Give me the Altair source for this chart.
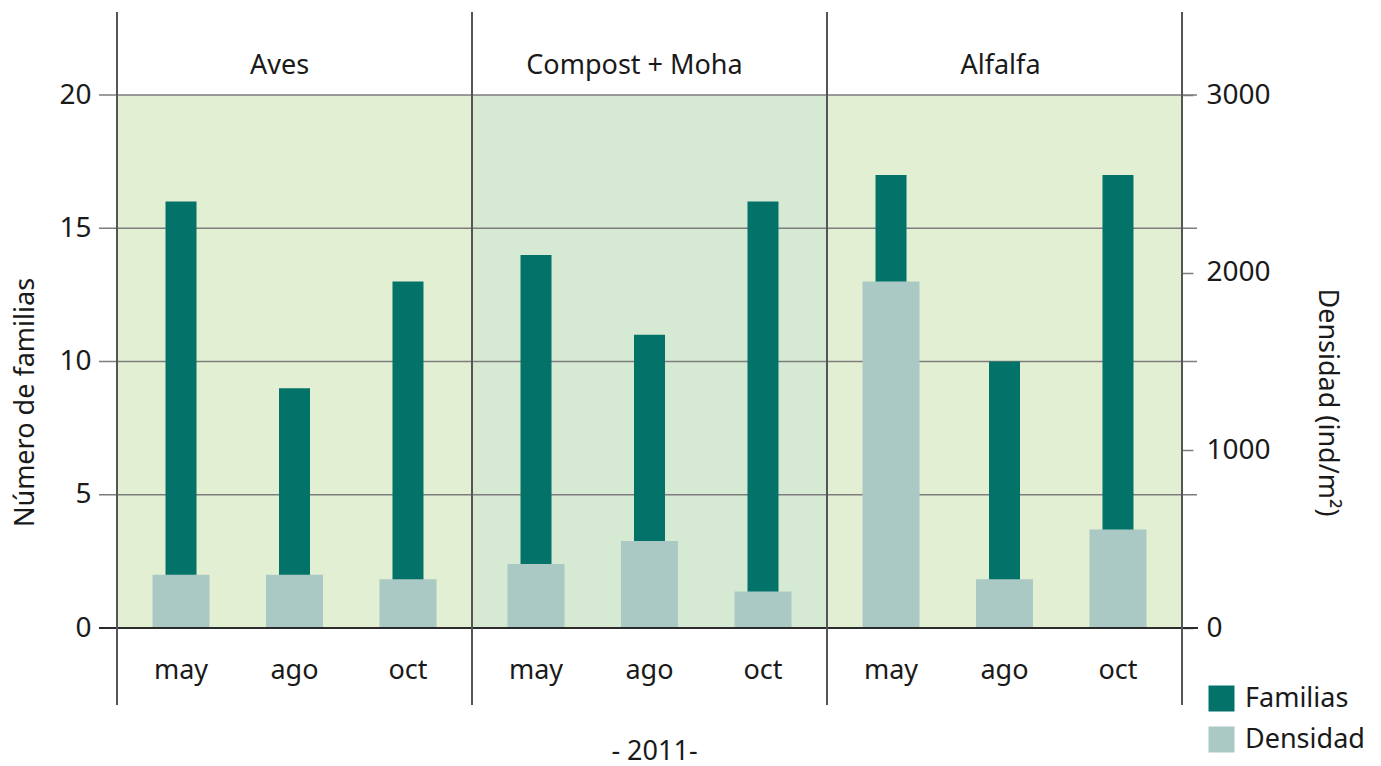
import altair as alt
import pandas as pd

panels = ["Aves", "Compost + Moha", "Alfalfa"]
months = ["may", "ago", "oct"]
familias = {
    "Aves": [16, 9, 13],
    "Compost + Moha": [14, 11, 16],
    "Alfalfa": [17, 10, 17],
}
densidad = {
    "Aves": [300, 300, 275],
    "Compost + Moha": [360, 490, 205],
    "Alfalfa": [1950, 275, 555],
}
left_ticks = [0, 5, 10, 15, 20]
right_ticks = [0, 1000, 2000, 3000]
series = ["Familias", "Densidad"]
bg_colors = {"Aves": "#E2EFD3", "Compost + Moha": "#D6EAD3", "Alfalfa": "#E2EFD3"}
title_dx = {"Aves": -15, "Compost + Moha": -15, "Alfalfa": -4}

FONT = "Noto Sans"
TXT = "#1a1a1a"
W, H = 355, 533
DARK = "#03736A"
LIGHT = "#AAC9C4"
GRID = "#7d7d7d"

cscale = alt.Scale(domain=series, range=[DARK, LIGHT])
legend = alt.Legend(
    title=None, orient="none", legendX=381, legendY=590, symbolType="square",
    symbolSize=676, symbolStrokeWidth=0, labelFont=FONT, labelFontSize=27,
    labelColor=TXT, labelOffset=10, rowPadding=13, padding=0,
)


def panel(i, name):
    first = i == 0
    last = i == len(panels) - 1
    df = pd.DataFrame({
        "mes": months,
        "Familias": familias[name],
        "Densidad": densidad[name],
        "sF": series[0],
        "sD": series[1],
    })
    xaxis_kw = dict(
        labelFontSize=27, labelFont=FONT, labelColor=TXT, ticks=False, tickSize=0,
        domain=False, labelPadding=29, labelAngle=0,
    )
    if i == 1:
        xaxis_kw.update(title="- 2011-", titleFont=FONT, titleFontSize=27,
                        titleFontWeight="normal", titleColor=TXT, titleX=182,
                        titleY=123, titleBaseline="middle", titleAlign="center")
    else:
        xaxis_kw.update(title=None)
    X = alt.X("mes:N", sort=months,
              scale=alt.Scale(paddingInner=0.5, paddingOuter=0.314),
              axis=alt.Axis(**xaxis_kw))

    x1 = -18 if first else 0
    x2 = W + 15 if last else W

    grid = alt.Chart(pd.DataFrame({"v": left_ticks[1:]})).mark_rule(
        color=GRID, strokeWidth=1.5
    ).encode(
        y=alt.Y("v:Q", scale=alt.Scale(domain=[0, 20]), axis=None),
        x=alt.value(x1), x2=alt.value(x2),
    )
    zero = alt.Chart(pd.DataFrame({"v": [0]})).mark_rule(
        color="#2b2b2b", strokeWidth=2
    ).encode(
        y=alt.Y("v:Q", scale=alt.Scale(domain=[0, 20]), axis=None),
        x=alt.value(x1), x2=alt.value(W + 16 if last else W),
    )

    if first:
        yaxis_f = alt.Axis(
            orient="left", values=left_ticks, ticks=False, tickSize=0, domain=False,
            grid=False, labelPadding=26, labelFont=FONT, labelFontSize=28,
            labelColor=TXT, title="Número de familias", titleAngle=270,
            titleFont=FONT, titleFontSize=27, titleFontWeight="normal",
            titleColor=TXT, titleX=-92, titleY=307, titleBaseline="middle",
            titleAlign="center",
        )
    else:
        yaxis_f = None
    if last:
        yaxis_d = alt.Axis(
            orient="right", values=right_ticks, format="d", tickSize=11,
            tickColor=GRID, tickWidth=1.5, domain=False, grid=False,
            labelPadding=13, labelFont=FONT, labelFontSize=28, labelColor=TXT,
            title="Densidad (ind/m²)", titleAngle=90, titleFont=FONT,
            titleFontSize=27, titleFontWeight="normal", titleColor=TXT,
            titleX=144, titleY=307, titleBaseline="middle", titleAlign="center",
        )
    else:
        yaxis_d = None

    fam = alt.Chart(df).mark_bar(size=31).encode(
        x=X,
        y=alt.Y("Familias:Q", scale=alt.Scale(domain=[0, 20]), axis=yaxis_f),
        color=alt.Color("sF:N", scale=cscale, legend=legend if last else None),
    )
    den = alt.Chart(df).mark_bar(size=57).encode(
        x=X,
        y=alt.Y("Densidad:Q", scale=alt.Scale(domain=[0, 3000]), axis=yaxis_d),
        color=alt.Color("sD:N", scale=cscale, legend=legend if last else None),
    )

    label = alt.Chart(pd.DataFrame({"panel": [name]})).mark_text(
        font=FONT, fontSize=27, color=TXT, baseline="alphabetic", align="center"
    ).encode(text="panel:N", x=alt.value(W / 2 + title_dx[name]), y=alt.value(-21))

    edges = [0, W] if last else [0]
    layers = [grid, fam, den, zero, label]
    for e in edges:
        layers.append(
            alt.Chart(pd.DataFrame({"e": [e]})).mark_rule(
                color="#555555", strokeWidth=2
            ).encode(x=alt.value(e), y=alt.value(-83), y2=alt.value(610))
        )

    return alt.layer(*layers).resolve_scale(y="independent").properties(
        width=W, height=H,
        view=alt.ViewBackground(fill=bg_colors[name], stroke=None),
    )


chart = alt.hconcat(
    *[panel(i, n) for i, n in enumerate(panels)], spacing=0, bounds="flush"
).resolve_scale(color="independent").properties(
    padding={"left": 3, "top": 3, "right": 5, "bottom": 8}
).configure(font=FONT).configure_view(strokeWidth=0)

chart.save("out.html", embed_options={"renderer": "svg", "actions": False})
